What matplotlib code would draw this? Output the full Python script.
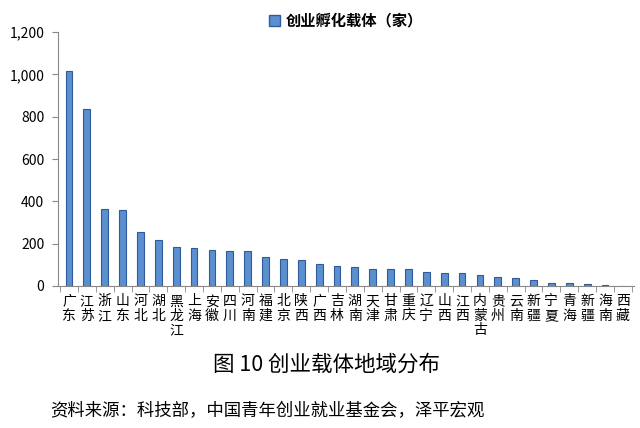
import matplotlib.pyplot as plt
import matplotlib.ticker as ticker
import numpy as np
from matplotlib.patches import Patch

plt.rcParams['font.family'] = ['Noto Sans CJK SC', 'DejaVu Sans']

# provinces and counts
provinces = ["广东", "江苏", "浙江", "山东", "河北", "湖北", "黑龙江", "上海", "安徽", "四川",
             "河南", "福建", "北京", "陕西", "广西", "吉林", "湖南", "天津", "甘肃", "重庆",
             "辽宁", "山西", "江西", "内蒙古", "贵州", "云南", "新疆", "宁夏", "青海", "新疆",
             "海南", "西藏"]
counts = [1015, 837, 363, 357, 253, 218, 182, 177, 171, 167,
          167, 136, 129, 122, 104, 95, 88, 80, 80, 79,
          66, 62, 62, 51, 43, 39, 28, 14, 14, 8,
          5, 0]
series_name = "创业孵化载体（家）"
caption = "图 10 创业载体地域分布"
source = "资料来源：科技部，中国青年创业就业基金会，泽平宏观"

fig = plt.figure(figsize=(6.4, 4.28), dpi=100)
ax = fig.add_axes([0.091, 0.332, 0.899, 0.593])

x = np.arange(len(provinces))
bar_face = '#5B8FD0'
bar_edge = '#2E5C9A'
ax.bar(x, counts, width=0.38, color=bar_face, edgecolor=bar_edge, linewidth=0.8)

ax.set_xlim(-0.6, len(provinces) - 0.4)
ax.set_ylim(0, 1200)
ax.yaxis.set_major_locator(ticker.MultipleLocator(200))
ax.yaxis.set_major_formatter(ticker.FuncFormatter(lambda v, p: f"{int(v):,}"))

ax.set_xticks(x)
ax.set_xticklabels(["\n".join(p) for p in provinces], fontsize=10, linespacing=1.05,
                   va='top')
ax.set_xticks(np.arange(len(provinces) + 1) - 0.5, minor=True)
ax.tick_params(axis='x', which='major', length=0, pad=6)
ax.tick_params(axis='x', which='minor', length=4, color='#888888', direction='out')
ax.tick_params(axis='y', length=4, color='#888888', labelsize=10, pad=6)

for s in ['top', 'right']:
    ax.spines[s].set_visible(False)
for s in ['left', 'bottom']:
    ax.spines[s].set_color('#888888')

leg = ax.legend(handles=[Patch(facecolor=bar_face, edgecolor=bar_edge, label=series_name)],
                loc='upper center', bbox_to_anchor=(0.5, 1.13), frameon=False,
                handlelength=0.7, handleheight=0.7, handletextpad=0.4,
                prop={'size': 11, 'weight': 'bold'})

fig.text(0.51, 0.148, caption, ha='center', va='center', fontsize=15.5)
fig.text(0.078, 0.04, source, ha='left', va='center', fontsize=12.5)

fig.savefig("out.png", dpi=100)
